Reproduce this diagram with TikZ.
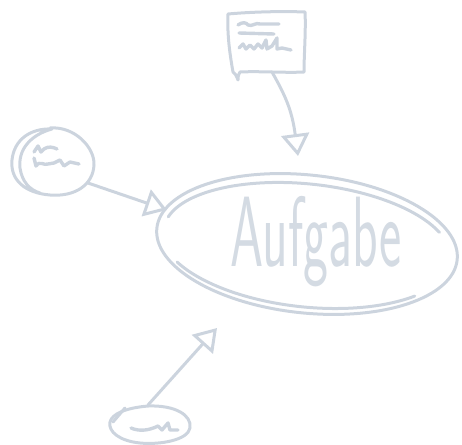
\documentclass[tikz,border=0pt]{standalone}
\usetikzlibrary{arrows.meta,shapes.geometric}
\definecolor{sk}{HTML}{CCD4DE}
\begin{document}
\begin{tikzpicture}[x=1pt,y=-1pt,
  sketch/.style={draw=sk,line width=3pt,line cap=round,line join=round},
  scrib/.style={draw=sk,line width=3.4pt,line cap=round,line join=round},
  hand/.style={sketch,-{Triangle[open,length=22pt,width=28pt,line width=3pt]}}]
\useasboundingbox (0,0) rectangle (462,444);
% main task
\node[text=sk!85,inner sep=0pt] (task) at (316,242) {\sffamily\fontsize{100}{100}\selectfont\scalebox{0.53}[1]{Aufgabe}};
\begin{scope}[shift={(307,244)},rotate=-6]
  \draw[sketch] (0,0) ellipse[x radius=151,y radius=69];
  \draw[sketch] (192:144 and 60) arc[start angle=192,end angle=335,x radius=144,y radius=60];
  \draw[sketch] (150:147 and 63) arc[start angle=150,end angle=40,x radius=147,y radius=63];
\end{scope}
% top note
\coordinate (note) at (266,42);
\draw[sketch] (228,14) .. controls (250,12) and (280,11) .. (305,12)
  .. controls (306,30) and (304,55) .. (304,72)
  .. controls (285,73) and (260,71) .. (240,72)
  .. controls (238,75) and (238,78) .. (238,80)
  .. controls (236,75) and (235,73) .. (233,72)
  .. controls (230,55) and (227,35) .. (228,14) -- cycle;
\draw[scrib] (238,25) .. controls (242,22) and (246,22) .. (248,25) .. controls (252,27) and (256,22) .. (260,24) -- (279,24);
\draw[scrib] (239,33) -- (274,34);
\draw[scrib] (239,48) -- (243,44) -- (246,49) -- (250,45) -- (254,49) -- (258,44) -- (262,48) -- (266,40) -- (267,49) -- (272,46) -- (277,38) -- (277,49) -- (282,48) -- (291,50);
\draw[hand] (272,72) .. controls (285,95) and (292,110) .. (298,156);
% left circle
\coordinate (lc) at (52,162);
\draw[sketch] (50,128) .. controls (75,126) and (95,148) .. (94,165)
  .. controls (93,185) and (75,197) .. (50,195)
  .. controls (25,193) and (10,180) .. (12,160)
  .. controls (14,140) and (30,128) .. (52,129)
  .. controls (30,135) and (18,150) .. (20,168)
  .. controls (22,182) and (30,190) .. (40,193);
\draw[scrib] (34,152) -- (38,146) -- (41,152) -- (44,149) .. controls (48,146) and (53,147) .. (57,149);
\draw[scrib] (34,158) -- (36,166) .. controls (40,160) and (44,166) .. (48,164) -- (54,163) -- (60,160) -- (64,166) -- (70,162) -- (79,164);
\draw[hand] (88,183) -- (167,210);
% bottom ellipse
\coordinate (be) at (147,425);
\draw[sketch] (148,406) .. controls (175,405) and (192,415) .. (190,428)
  .. controls (188,440) and (160,445) .. (140,443)
  .. controls (120,441) and (108,432) .. (110,422)
  .. controls (112,414) and (125,408) .. (148,406);
\draw[sketch] (125,408) -- (113,422);
\draw[scrib] (131,428) .. controls (140,432) and (150,430) .. (158,426) -- (162,430) -- (168,423) -- (170,430) -- (178,430);
\draw[hand] (148,405) -- (217,328);
\end{tikzpicture}
\end{document}
